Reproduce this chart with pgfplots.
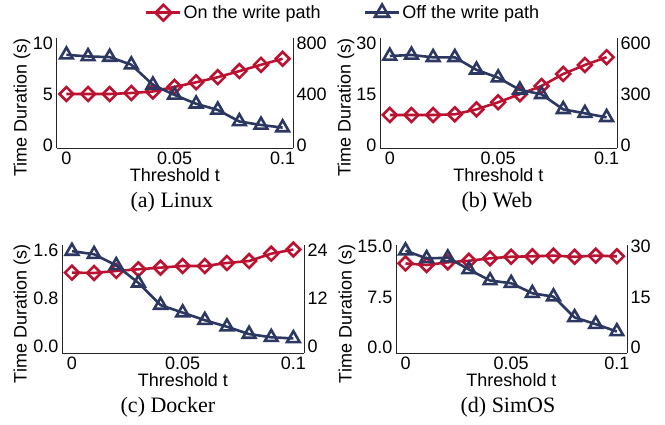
\documentclass[border=0pt]{standalone}
\usepackage{pgfplots}
\pgfplotsset{compat=1.18}
\usepackage{fontspec}
\setmainfont{Liberation Sans}
\newfontfamily\capfont{Liberation Serif}
\definecolor{cred}{RGB}{187,18,49}
\definecolor{cblue}{RGB}{44,56,98}

\pgfplotsset{
  base/.style={
    scale only axis,
    xmin=-0.0045, xmax=0.1048,
    xtick={0,0.05,0.1}, xticklabels={0,0.05,0.1},
    tick style={draw=none},
    major tick length=0pt,
    axis line style={-, line width=0.9pt, black!85},
    font=\fontsize{18}{20}\selectfont,
    clip=false,
    legend image code/.code={\draw[mark repeat=2, mark phase=2, ##1] plot coordinates {(0pt,0pt) (17pt,0pt) (34pt,0pt)};},
  },
  leftax/.style={
    base,
    axis x line*=bottom, axis y line*=left,
    xlabel={Threshold t},
    ylabel={Time Duration (s)},
    xticklabel style={anchor=base, yshift=-17pt, inner sep=0pt},
    yticklabel style={anchor=east, xshift=-3.5pt, inner sep=0pt},
    xlabel style={at={(axis description cs:0.5,0)}, anchor=base, yshift=-34pt, inner sep=0pt},
    title style={at={(axis description cs:0.5,0)}, anchor=base, yshift=-66pt, inner sep=0pt, font=\capfont\fontsize{22}{26}\selectfont},
  },
  rightax/.style={
    base,
    axis x line=none, axis y line*=right,
    yticklabel style={anchor=west, xshift=3.5pt, inner sep=0pt},
  },
  redline/.style={color=cred, line width=2.6pt, mark=square, mark size=4.9pt, mark options={rotate=45, solid, fill=white}},
  blueline/.style={color=cblue, line width=2.6pt, mark=triangle, mark size=7.3pt, mark options={solid, fill=white}},
}

\begin{document}
\begin{tikzpicture}
\path[use as bounding box] (0pt,0pt) rectangle (665pt,425pt);

% (a) Linux
\begin{axis}[leftax, at={(56.7pt,277pt)}, anchor=south west, width=236.3pt, height=110pt,
  ymin=-0.3, ymax=10.5, ytick={0,5,10}, yticklabels={0,5,10},
  ylabel style={at={(axis description cs:-0.147,0.37)}, anchor=center, inner sep=0pt},
  title={(a) Linux}, title style={xshift=-3pt},
  legend columns=2,
  legend style={draw=none, fill=none, at={(1.212,1.23)}, anchor=center, font=\fontsize{18}{20}\selectfont,
    /tikz/every even column/.append style={column sep=41pt}},
]
\addlegendimage{redline, mark size=5.6pt}
\addlegendentry{On the write path}
\addlegendimage{blueline, mark size=8.2pt}
\addlegendentry{Off the write path}
\addplot[redline, forget plot] coordinates {(0,5.0) (0.01,5.0) (0.02,5.0) (0.03,5.1) (0.04,5.25) (0.05,5.7) (0.06,6.15) (0.07,6.65) (0.08,7.25) (0.09,7.87) (0.1,8.46)};
\end{axis}
\begin{axis}[rightax, at={(56.7pt,277pt)}, anchor=south west, width=236.3pt, height=110pt,
  ymin=-24, ymax=840, ytick={0,400,800}, yticklabels={0,400,800}]
\addplot[blueline] coordinates {(0,708) (0.01,695) (0.02,690) (0.03,630) (0.04,472) (0.05,393) (0.06,323) (0.07,275) (0.08,184) (0.09,157) (0.1,136)};
\end{axis}

% (b) Web
\begin{axis}[leftax, at={(380pt,277pt)}, anchor=south west, width=237pt, height=110pt,
  ymin=-0.885, ymax=31.56, ytick={0,15,30}, yticklabels={0,15,30},
  ylabel style={at={(axis description cs:-0.1435,0.37)}, anchor=center, inner sep=0pt},
  title={(b) Web}, title style={xshift=-1.5pt},
]
\addplot[redline] coordinates {(0,8.85) (0.01,8.85) (0.02,8.85) (0.03,9.05) (0.04,10.5) (0.05,12.6) (0.06,15.0) (0.07,17.4) (0.08,20.95) (0.09,23.6) (0.1,25.9)};
\end{axis}
\begin{axis}[rightax, at={(380pt,277pt)}, anchor=south west, width=237pt, height=110pt,
  ymin=-17.7, ymax=631.2, ytick={0,300,600}, yticklabels={0,300,600}]
\addplot[blueline] coordinates {(0,525) (0.01,531) (0.02,517) (0.03,517) (0.04,443) (0.05,397) (0.06,325) (0.07,299) (0.08,210) (0.09,187) (0.1,163)};
\end{axis}

% (c) Docker
\begin{axis}[leftax, at={(62pt,72pt)}, anchor=south west, width=242pt, height=108pt,
  ymin=-0.1175, ymax=1.696, ytick={0,0.8,1.6}, yticklabels={0.0,0.8,1.6},
  ylabel style={at={(axis description cs:-0.165,0.36)}, anchor=center, inner sep=0pt},
  title={(c) Docker}, title style={xshift=-15pt},
]
\addplot[redline] coordinates {(0,1.232) (0.01,1.226) (0.02,1.26) (0.03,1.288) (0.04,1.316) (0.05,1.343) (0.06,1.343) (0.07,1.394) (0.08,1.427) (0.09,1.55) (0.1,1.62)};
\end{axis}
\begin{axis}[rightax, at={(62pt,72pt)}, anchor=south west, width=242pt, height=108pt,
  ymin=-1.7625, ymax=25.44, ytick={0,12,24}, yticklabels={0,12,24}]
\addplot[blueline] coordinates {(0,23.9) (0.01,23.1) (0.02,20.3) (0.03,15.9) (0.04,10.3) (0.05,8.4) (0.06,6.5) (0.07,4.85) (0.08,3.0) (0.09,2.2) (0.1,1.9)};
\end{axis}

% (d) SimOS
\begin{axis}[leftax, at={(396pt,72pt)}, anchor=south west, width=231pt, height=108pt,
  ymin=-0.85, ymax=15.25, ytick={0,7.5,15}, yticklabels={0.0,7.5,15.0},
  ylabel style={at={(axis description cs:-0.212,0.36)}, anchor=center, inner sep=0pt},
  title={(d) SimOS}, title style={xshift=-3.5pt},
]
\addplot[redline] coordinates {(0,12.5) (0.01,12.27) (0.02,12.67) (0.03,12.9) (0.04,13.26) (0.05,13.5) (0.06,13.56) (0.07,13.66) (0.08,13.5) (0.09,13.66) (0.1,13.56)};
\end{axis}
\begin{axis}[rightax, at={(396pt,72pt)}, anchor=south west, width=231pt, height=108pt,
  ymin=-1.7, ymax=30.5, ytick={0,15,30}, yticklabels={0,15,30}]
\addplot[blueline] coordinates {(0,28.8) (0.01,26.5) (0.02,26.7) (0.03,23.2) (0.04,19.9) (0.05,19.1) (0.06,16.1) (0.07,15.1) (0.08,8.9) (0.09,6.9) (0.1,4.7)};
\end{axis}
\end{tikzpicture}
\end{document}
